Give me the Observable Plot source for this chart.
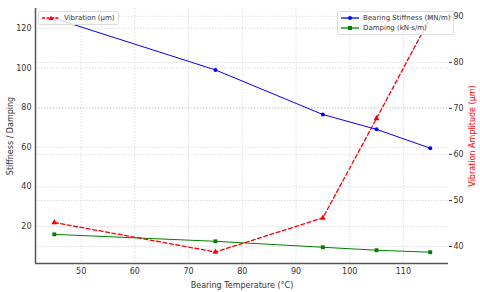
<!DOCTYPE html>
<html><head><meta charset="utf-8">
<script src="https://cdn.jsdelivr.net/npm/d3@7"></script>
<script src="https://cdn.jsdelivr.net/npm/@observablehq/plot@0.6"></script>
<style>
body{margin:0;background:#fff;font-family:"DejaVu Sans",sans-serif;}
#wrap{position:relative;width:480px;height:292px;}
.leg{position:absolute;background:rgba(255,255,255,0.8);border:1px solid #ddd;border-radius:2px;font-size:7px;color:#333;padding:1px 3px;line-height:10px;}
.leg div{display:flex;align-items:center;white-space:nowrap;}
.leg svg{margin-right:4px;}
</style></head>
<body><div id="wrap"></div>
<script>
const temperature = [45, 75, 95, 105, 115];
const stiffness = [125, 99, 76.5, 69, 59.5];
const damping = [16, 12.5, 9.5, 8, 7];
const vibration = [45.2, 38.8, 46.2, 67.8, 89.7];
const xTicks = [50, 60, 70, 80, 90, 100, 110];
const leftTicks = [20, 40, 60, 80, 100, 120];
const rightTicks = [40, 50, 60, 70, 80, 90];

const L = [1.3, 130], R = [36.3, 91.7];
const f = v => L[0] + (v - R[0]) * (L[1] - L[0]) / (R[1] - R[0]);
const finv = y => R[0] + (y - L[0]) * (R[1] - R[0]) / (L[1] - L[0]);

const rows = temperature.map((t, i) => ({t, s: stiffness[i], d: damping[i], v: f(vibration[i])}));
const gridStyle = {stroke: "#c8c8c8", strokeOpacity: 0.6, strokeDasharray: "1.5,1.5"};

const chart = Plot.plot({
  width: 480, height: 292,
  marginLeft: 35, marginRight: 32, marginTop: 8, marginBottom: 29,
  style: {fontFamily: "DejaVu Sans, sans-serif", fontSize: "8px", color: "#333", background: "white"},
  x: {domain: [41.5, 118.4]},
  y: {domain: L},
  marks: [
    Plot.gridX(xTicks, gridStyle),
    Plot.gridY(leftTicks, gridStyle),
    Plot.gridY(rightTicks.map(f), gridStyle),
    Plot.axisX(xTicks, {tickSize: 0, tickPadding: 5, label: "Bearing Temperature (°C)", labelAnchor: "center", labelArrow: "none", labelOffset: 24}),
    Plot.axisY(leftTicks, {tickSize: 0, tickPadding: 4, label: "Stiffness / Damping", labelAnchor: "center", labelArrow: "none", labelOffset: 28}),
    Plot.axisY(rightTicks.map(f), {anchor: "right", tickSize: 3, tickPadding: 2, tickFormat: y => Math.round(finv(y)), label: "Vibration Amplitude (µm)", labelAnchor: "center", labelArrow: "none", labelOffset: 26}),
    Plot.ruleX([41.5], {stroke: "#555", strokeWidth: 1.5}),
    Plot.ruleY([L[0]], {stroke: "#555", strokeWidth: 1.5}),
    Plot.line(rows, {x: "t", y: "s", stroke: "#0000ff", strokeWidth: 1}),
    Plot.dot(rows, {x: "t", y: "s", fill: "#0000ff", r: 2, symbol: "circle"}),
    Plot.line(rows, {x: "t", y: "d", stroke: "#008000", strokeWidth: 1}),
    Plot.dot(rows, {x: "t", y: "d", fill: "#008000", r: 2.2, symbol: "square"}),
    Plot.line(rows, {x: "t", y: "v", stroke: "#ff0000", strokeWidth: 1.3, strokeDasharray: "4,2.5"}),
    Plot.dot(rows, {x: "t", y: "v", fill: "#ff0000", r: 2.2, symbol: "triangle"})
  ]
});
const wrap = document.getElementById("wrap");
wrap.appendChild(chart);
chart.querySelectorAll("text").forEach(t => { if (t.textContent === "Vibration Amplitude (µm)") t.setAttribute("fill", "#ff0000"); });

function legend(items, style) {
  const d = document.createElement("div");
  d.className = "leg";
  Object.assign(d.style, style);
  items.forEach(([label, color, sym, dash]) => {
    const row = document.createElement("div");
    let m = sym === "circle" ? `<circle cx="9" cy="4" r="2" fill="${color}"/>` :
            sym === "square" ? `<rect x="7" y="2" width="4" height="4" fill="${color}"/>` :
            `<path d="M9,1.5 L11.5,6 L6.5,6Z" fill="${color}"/>`;
    row.innerHTML = `<svg width="18" height="8"><line x1="0" y1="4" x2="18" y2="4" stroke="${color}" stroke-width="1.3" ${dash ? 'stroke-dasharray="3,1.5"' : ''}/>${m}</svg><span>${label}</span>`;
    d.appendChild(row);
  });
  wrap.appendChild(d);
}
legend([["Vibration (µm)", "#ff0000", "triangle", true]], {left: "38px", top: "11px"});
legend([["Bearing Stiffness (MN/m)", "#0000ff", "circle"], ["Damping (kN·s/m)", "#008000", "square"]], {left: "337px", top: "11px"});
</script></body></html>
